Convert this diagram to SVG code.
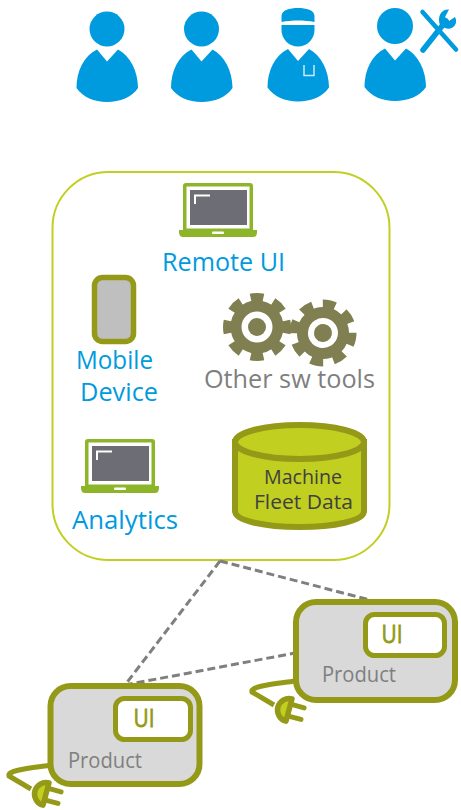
<svg xmlns="http://www.w3.org/2000/svg" xmlns:xlink="http://www.w3.org/1999/xlink" width="461" height="810" viewBox="0 0 461 810">
<style>
text{font-family:"Open Sans","Noto Sans","DejaVu Sans",sans-serif}
.blue{fill:#009ade;font-size:26px}
.gray{fill:#7f7f7f}
.dark{fill:#404040;font-size:20px}
.ui{fill:#949a17;font-size:26px;stroke:#949a17;stroke-width:.8}
.prod{fill:#7f7f7f;font-size:21.500px}
.p{fill:#009ade}
.ol{stroke:#949a17;fill:none}
.gear{fill:#7f7f52}
.conn{stroke:#7f7f7f;stroke-width:3;stroke-dasharray:8 4;fill:none}
</style>
<defs>
<path id="body" d="M97,49.500 L107,61.500 L118,49.500 C130,56 138,71 138,88 C132,97 120,102 107,102 C94,102 83,97 76.500,88 C76.500,71 84,56 97,49.500Z"/>
<g id="laptop">
<path d="M0,47 V3 Q0,0 3,0 H67 Q70,0 70,3 V47 Z" fill="#8db52a"/>
<path d="M-4,47 H74 V49 Q74,54 70,54 H0 Q-4,54 -4,49Z" fill="#8db52a"/>
<rect x="3.500" y="3.500" width="63" height="42" fill="#fff"/>
<rect x="7" y="7" width="57" height="35" fill="#6d6e75"/>
<path d="M12,21 V12.500 H27" fill="none" stroke="#fff" stroke-width="2"/>
<rect x="29" y="48.500" width="12" height="2.500" rx="1" fill="#fff"/>
</g>
<g id="plug">
<path d="M0,-6 H14 M0,6 H14" stroke="#949a17" stroke-width="5" stroke-linecap="round"/>
<path d="M0,-11.500 A11.500,11.500 0 0 0 0,11.500 Z" fill="#c1cf20" stroke="#949a17" stroke-width="5.500" stroke-linejoin="round"/>
</g>
</defs>

<g id="user-1" class="p"><circle cx="107" cy="29" r="17.500"/><use xlink:href="#body" href="#body"/></g>
<g id="user-2" class="p" transform="translate(94.500 0)"><circle cx="107" cy="29" r="17.500"/><use xlink:href="#body" href="#body"/></g>
<g id="user-3" class="p">
<path d="M281.500,25 H314.500 V30 A16.500,16.500 0 0 1 281.500,30 Z"/>
<path d="M281.500,22 V16 C281.500,10 290,8 298,8 S314.500,10 314.500,16 V22 C304,20 292,20 281.500,22 Z"/>
<use xlink:href="#body" href="#body" transform="translate(191 -0.500)"/>
<path d="M304,65 V75.500 H314 V65" fill="none" stroke="#fff" stroke-opacity=".8" stroke-width="1.500"/>
</g>
<g id="user-4" class="p">
<circle cx="395" cy="26" r="18"/>
<use xlink:href="#body" href="#body" transform="translate(288 -1)"/>
<path d="M422.500,12 L456,49.500" stroke="#009ade" stroke-width="4.500" stroke-linecap="round" fill="none"/>
<path d="M423,50 L446,21" stroke="#009ade" stroke-width="5.500" stroke-linecap="round" fill="none"/>
<path d="M449,9.500 L445,17 L449,21 L455,17 C459,24 452,31 445,28 L440,25 C437,17 441,9 449,9.500Z"/>
</g>

<g id="cloud"><rect x="52.500" y="172" width="337" height="388" rx="56" fill="#fff" stroke="#c2cf22" stroke-width="2"/></g>

<g id="connectors">
<path class="conn" d="M220,561 L125,685 L295,653"/>
<path class="conn" d="M220,561 L370,600"/>
</g>

<g id="remote-ui">
<use xlink:href="#laptop" href="#laptop" transform="translate(183 183)"/>
<text class="blue" x="162" y="271" textLength="123" lengthAdjust="spacingAndGlyphs">Remote UI</text>
</g>
<g id="mobile-device">
<rect x="94.500" y="277.500" width="39" height="64" rx="8" fill="#bfbfbf" stroke="#949a17" stroke-width="5.500"/>
<text class="blue" x="76" y="369" textLength="77" lengthAdjust="spacingAndGlyphs">Mobile</text>
<text class="blue" x="80" y="401" textLength="78" lengthAdjust="spacingAndGlyphs">Device</text>
</g>
<g id="other-tools">
<g id="gear-1">
<circle cx="257" cy="327" r="21" fill="none" stroke="#7f7f52" stroke-width="11"/>
<circle cx="257" cy="327" r="9" class="gear"/>
<circle cx="257" cy="327" r="29" fill="none" stroke="#7f7f52" stroke-width="10" pathLength="80" stroke-dasharray="5.500 4.500" stroke-dashoffset="2.750"/>
</g>
<g id="gear-2" transform="rotate(12 323 333)">
<circle cx="323" cy="333" r="20.500" fill="none" stroke="#7f7f52" stroke-width="11"/>
<circle cx="323" cy="333" r="9" class="gear"/>
<circle cx="323" cy="333" r="28.500" fill="none" stroke="#7f7f52" stroke-width="10" pathLength="80" stroke-dasharray="5.500 4.500" stroke-dashoffset="2.750"/>
</g>
<text class="gray" x="204" y="388" font-size="26" textLength="171" lengthAdjust="spacingAndGlyphs">Other sw tools</text>
</g>
<g id="analytics">
<use xlink:href="#laptop" href="#laptop" transform="translate(85 439)"/>
<text class="blue" x="72" y="529" textLength="106" lengthAdjust="spacingAndGlyphs">Analytics</text>
</g>
<g id="fleet-data">
<path d="M235,442 V511 C235,521 265,527 299.500,527 S364,521 364,511 V442 Z" fill="#c1cf20" stroke="#949a17" stroke-width="6"/>
<ellipse cx="299.500" cy="442" rx="64.500" ry="17" fill="#c1cf20" stroke="#949a17" stroke-width="6"/>
<text class="dark" x="264" y="484" textLength="78" lengthAdjust="spacingAndGlyphs">Machine</text>
<text class="dark" x="254" y="509" textLength="99" lengthAdjust="spacingAndGlyphs">Fleet Data</text>
</g>

<g id="product-2">
<path class="ol" stroke-width="5" d="M295,681 C275,684 250,686 252,692 L274,705"/>
<use xlink:href="#plug" href="#plug" transform="translate(289 710) rotate(15)"/>
<rect x="296" y="602" width="159" height="98" rx="20" fill="#d9d9d9" stroke="#949a17" stroke-width="6"/>
<rect x="365.500" y="614.500" width="79" height="41" rx="9" fill="#fff" stroke="#949a17" stroke-width="5"/>
<text class="ui" x="392" y="643" text-anchor="middle" textLength="21" lengthAdjust="spacingAndGlyphs">UI</text>
<text class="prod" x="322" y="682" textLength="74" lengthAdjust="spacingAndGlyphs">Product</text>
</g>
<g id="product-1">
<path class="ol" stroke-width="5" d="M52,765 C32,768 7,770 9,776 L31,789"/>
<use xlink:href="#plug" href="#plug" transform="translate(46 794) rotate(15)"/>
<rect x="50.500" y="686" width="149" height="98" rx="20" fill="#d9d9d9" stroke="#949a17" stroke-width="6"/>
<rect x="115.500" y="698.500" width="75" height="41" rx="9" fill="#fff" stroke="#949a17" stroke-width="5"/>
<text class="ui" x="144" y="727" text-anchor="middle" textLength="21" lengthAdjust="spacingAndGlyphs">UI</text>
<text class="prod" x="68" y="768" textLength="74" lengthAdjust="spacingAndGlyphs">Product</text>
</g>
</svg>
